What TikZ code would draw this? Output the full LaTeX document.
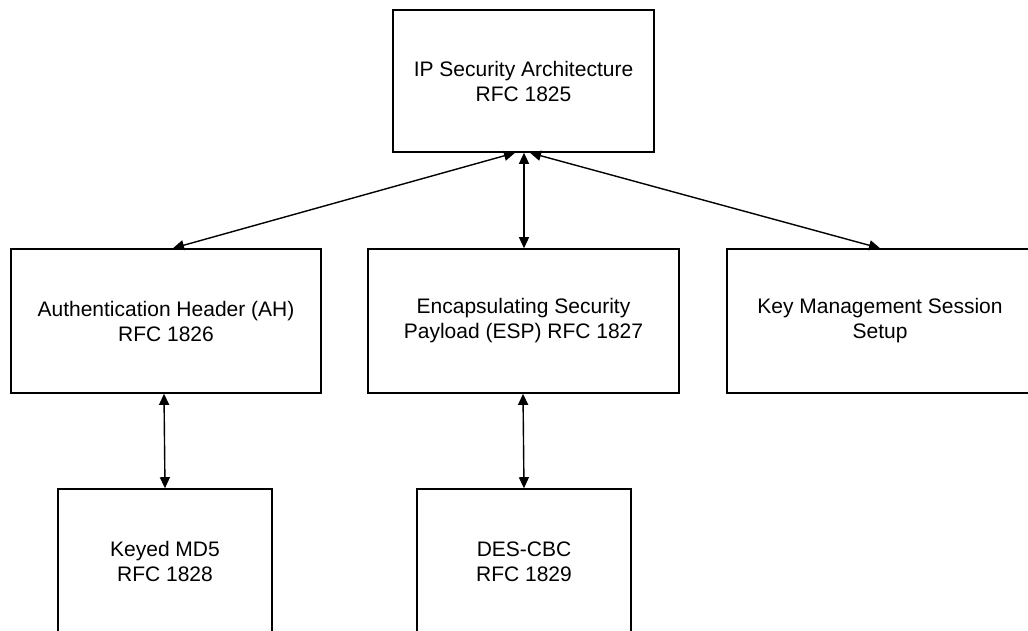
\documentclass[tikz,border=0pt]{standalone}
\usepackage{fontspec}
\setmainfont{Liberation Sans}
\usetikzlibrary{arrows.meta}
\begin{document}
\begin{tikzpicture}[x=1pt,y=-1pt,
  box/.style={draw=black, line width=1.6pt, rectangle, inner sep=0pt,
    align=center, font=\fontsize{21}{25}\selectfont},
  link/.style={line width=1.4pt, {Triangle[length=11pt,width=10pt]}-{Triangle[length=11pt,width=10pt]}}]
  \useasboundingbox (0,0) rectangle (1028,630);
  \fill[white] (0,0) rectangle (1028,630);
  \clip (0,0) rectangle (1028,630);

  % top level document
  \node[box, minimum width=261pt, minimum height=142pt] (ip) at (523.5,81)
    {IP Security Architecture\\RFC 1825};

  % second row
  \node[box, minimum width=310pt, minimum height=144pt] (ah) at (166,321)
    {Authentication Header (AH)\\RFC 1826};
  \node[box, minimum width=311pt, minimum height=144pt] (esp) at (523.5,321)
    {Encapsulating Security\\Payload (ESP) RFC 1827};
  \node[box, minimum width=306pt, minimum height=144pt] (km) at (880,321)
    {Key Management Session\\Setup};

  % algorithms
  \node[box, minimum width=214pt, minimum height=150pt] (md5) at (165,564)
    {\raisebox{4pt}{\begin{tabular}{@{}c@{}}Keyed MD5\\RFC 1828\end{tabular}}};
  \node[box, minimum width=214pt, minimum height=150pt] (des) at (524,564)
    {\raisebox{4pt}{\begin{tabular}{@{}c@{}}DES-CBC\\RFC 1829\end{tabular}}};

  % connectors
  \draw[link] ([xshift=-8.5pt]ip.south) -- ([xshift=7pt]ah.north);
  \draw[link] ([xshift=0.5pt]ip.south) -- ([xshift=0.5pt]esp.north);
  \draw[link] ([xshift=6.5pt]ip.south) -- (km.north);
  \draw[link] ([xshift=-2pt]ah.south) -- (md5.north);
  \draw[link] ([xshift=-0.5pt]esp.south) -- (des.north);
\end{tikzpicture}
\end{document}
